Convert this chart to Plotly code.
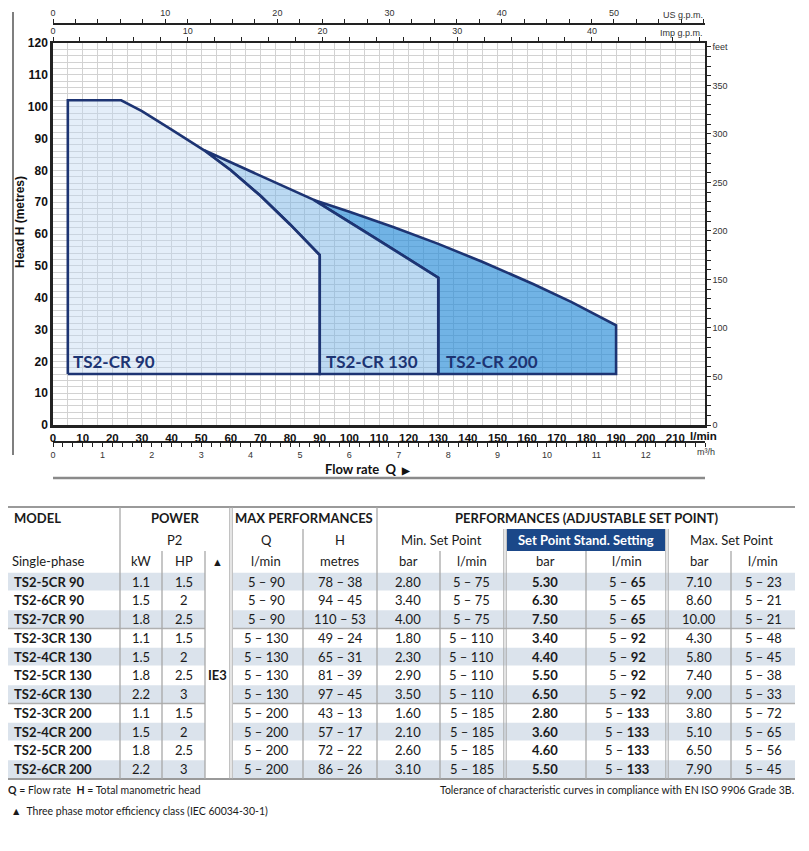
import plotly.graph_objects as go

W, H = 809, 851          # window size
OX, OY = 8, 8            # browser body margin
FW, FH = W - 16, H - 16  # figure size

# ---------------- chart data (l/min vs metres) ----------------
Q_CR90 = [5, 23, 30, 40, 51, 60, 70, 80, 90]
H_CR90 = [102, 102, 98.6, 92.8, 86.3, 80.0, 72.0, 63.0, 53.4]
Q_CR130 = [51, 88, 108, 130]
H_CR130 = [86.3, 70.7, 59.2, 46.3]
Q_CR200 = [88, 100, 115, 130, 145, 162, 175, 190]
H_CR200 = [70.7, 67.0, 62.1, 56.9, 51.2, 44.3, 38.6, 31.3]
H_MIN = 16
SERIES_LABELS = ["TS2-CR 90", "TS2-CR 130", "TS2-CR 200"]

Q_MAX, H_MAX = 220, 120
L_PER_USGAL, L_PER_IMPGAL, FT_PER_M = 3.78541, 4.54609, 3.28084

X_TICKS = list(range(0, 221, 5))
Y_TICKS = list(range(0, 121, 2))
USGPM_TICKS = list(range(0, 59, 2))
IMPGPM_TICKS = list(range(0, 49, 2))
M3H_TICKS = [round(i * 0.2, 1) for i in range(0, 67)]
FEET_TICKS = list(range(0, 391, 10))

# ---------------- table data ----------------
MODELS = ["TS2-5CR 90", "TS2-6CR 90", "TS2-7CR 90", "TS2-3CR 130", "TS2-4CR 130", "TS2-5CR 130",
          "TS2-6CR 130", "TS2-3CR 200", "TS2-4CR 200", "TS2-5CR 200", "TS2-6CR 200"]
KW = ["1.1", "1.5", "1.8", "1.1", "1.5", "1.8", "2.2", "1.1", "1.5", "1.8", "2.2"]
HP = ["1.5", "2", "2.5", "1.5", "2", "2.5", "3", "1.5", "2", "2.5", "3"]
Q_RANGE = ["5 – 90"] * 3 + ["5 – 130"] * 4 + ["5 – 200"] * 4
H_RANGE = ["78 – 38", "94 – 45", "110 – 53", "49 – 24", "65 – 31", "81 – 39", "97 – 45",
           "43 – 13", "57 – 17", "72 – 22", "86 – 26"]
MIN_BAR = ["2.80", "3.40", "4.00", "1.80", "2.30", "2.90", "3.50", "1.60", "2.10", "2.60", "3.10"]
MIN_LMIN = ["5 – 75"] * 3 + ["5 – 110"] * 4 + ["5 – 185"] * 4
STD_BAR = ["5.30", "6.30", "7.50", "3.40", "4.40", "5.50", "6.50", "2.80", "3.60", "4.60", "5.50"]
STD_LMIN = ["65"] * 3 + ["92"] * 4 + ["133"] * 4
MAX_BAR = ["7.10", "8.60", "10.00", "4.30", "5.80", "7.40", "9.00", "3.80", "5.10", "6.50", "7.90"]
MAX_LMIN = ["5 – 23", "5 – 21", "5 – 21", "5 – 48", "5 – 45", "5 – 38", "5 – 33",
            "5 – 72", "5 – 65", "5 – 56", "5 – 45"]
EFF_CLASS = "IE3"

NAVY = "#1d3473"
CHART_FONT = "Liberation Sans Narrow, Liberation Sans, Arial"
TABLE_FONT = "Lato, Open Sans, sans-serif"
NARROW_FONT = "Liberation Sans Narrow, Lato, sans-serif"


def PX(x):
    return (x - OX) / FW


def PY(y):
    return 1 - (y - OY) / FH


fig = go.Figure()

# exclusive polygons built from the curves (closed)
i51 = Q_CR90.index(Q_CR130[0])
poly90_x = [Q_CR90[0]] + Q_CR90 + [Q_CR90[-1], Q_CR90[0]]
poly90_y = [H_MIN] + H_CR90 + [H_MIN, H_MIN]
poly130_x = Q_CR130 + [Q_CR130[-1], Q_CR90[-1]] + Q_CR90[i51:][::-1]
poly130_y = H_CR130 + [H_MIN, H_MIN] + H_CR90[i51:][::-1]
j88 = Q_CR130.index(Q_CR200[0])
poly200_x = Q_CR200 + [Q_CR200[-1], Q_CR130[-1]] + Q_CR130[j88:][::-1]
poly200_y = H_CR200 + [H_MIN, H_MIN] + H_CR130[j88:][::-1]

for px_, py_, fc in [(poly200_x, poly200_y, "rgba(40,140,215,0.66)"),
                     (poly130_x, poly130_y, "rgba(120,180,230,0.50)"),
                     (poly90_x, poly90_y, "rgba(190,215,240,0.42)")]:
    fig.add_trace(go.Scatter(x=px_, y=py_, fill="toself", fillcolor=fc, mode="lines",
                             line=dict(color=NAVY, width=2.6), hoverinfo="skip", showlegend=False))

# dummy traces to activate secondary axes
fig.add_trace(go.Scatter(x=[0, Q_MAX / L_PER_USGAL], y=[None, None], xaxis="x2", yaxis="y", mode="lines",
                         showlegend=False, hoverinfo="skip"))
fig.add_trace(go.Scatter(x=[0, Q_MAX / L_PER_IMPGAL], y=[None, None], xaxis="x3", yaxis="y", mode="lines",
                         showlegend=False, hoverinfo="skip"))
fig.add_trace(go.Scatter(x=[0, Q_MAX * 60 / 1000], y=[None, None], xaxis="x4", yaxis="y", mode="lines",
                         showlegend=False, hoverinfo="skip"))
fig.add_trace(go.Scatter(x=[None, None], y=[0, H_MAX * FT_PER_M], xaxis="x", yaxis="y2", mode="lines",
                         showlegend=False, hoverinfo="skip"))

XD = [PX(53), PX(705)]
YD = [PY(425), PY(43)]
small = dict(size=9, color="#333", family=CHART_FONT)

fig.update_layout(
    width=FW, height=FH, margin=dict(l=0, r=0, t=0, b=0),
    paper_bgcolor="white", plot_bgcolor="white", showlegend=False,
    xaxis=dict(domain=XD, range=[0, Q_MAX], anchor="y", side="bottom", automargin=False,
               tickvals=X_TICKS,
               ticktext=[f"<b>{v}</b>" if v % 10 == 0 and v <= 210 else "" for v in X_TICKS],
               tickfont=dict(size=11.5, color="#111", family=CHART_FONT), ticks="",
               showgrid=True, gridcolor="#d2d2d2", gridwidth=1, zeroline=False,
               showline=True, linecolor="#222", linewidth=2.5),
    yaxis=dict(domain=YD, range=[0, H_MAX], anchor="x", automargin=False,
               tickvals=Y_TICKS,
               ticktext=[f"<b>{v}</b>" if v % 10 == 0 else "" for v in Y_TICKS],
               tickfont=dict(size=12, color="#111", family=CHART_FONT), ticks="",
               showgrid=True, gridcolor="#d2d2d2", gridwidth=1, zeroline=False,
               showline=True, linecolor="#222", linewidth=2.5),
    xaxis2=dict(domain=XD, range=[0, Q_MAX / L_PER_USGAL], overlaying="x", anchor="free",
                position=PY(24), side="top", automargin=False,
                tickvals=USGPM_TICKS, ticktext=[str(v) if v % 10 == 0 else "" for v in USGPM_TICKS],
                tickfont=small, ticks="outside", ticklen=4, tickcolor="#222", tickwidth=1.2,
                showgrid=False, zeroline=False, showline=True, linecolor="#222", linewidth=1.5),
    xaxis3=dict(domain=XD, range=[0, Q_MAX / L_PER_IMPGAL], overlaying="x", anchor="y",
                side="top", automargin=False,
                tickvals=IMPGPM_TICKS, ticktext=[str(v) if v % 10 == 0 else "" for v in IMPGPM_TICKS],
                tickfont=small, ticks="outside", ticklen=4, tickcolor="#222", tickwidth=1.2,
                showgrid=False, zeroline=False, showline=True, linecolor="#222", linewidth=1.5),
    xaxis4=dict(domain=XD, range=[0, Q_MAX * 60 / 1000], overlaying="x", anchor="free",
                position=PY(442), side="bottom", automargin=False,
                tickvals=M3H_TICKS,
                ticktext=[str(int(v)) if abs(v - round(v)) < 1e-6 and v <= 12 else "" for v in M3H_TICKS],
                tickfont=small, ticks="outside", ticklen=4, tickcolor="#222", tickwidth=1,
                showgrid=False, zeroline=False, showline=True, linecolor="#222", linewidth=1.5),
    yaxis2=dict(domain=YD, range=[0, H_MAX * FT_PER_M], overlaying="y", anchor="x", side="right",
                automargin=False, tickvals=FEET_TICKS,
                ticktext=[str(v) if v % 50 == 0 else ("feet" if v == 390 else "") for v in FEET_TICKS],
                tickfont=small, ticks="outside", ticklen=4, tickcolor="#222", tickwidth=1.2,
                showgrid=False, zeroline=False, showline=True, linecolor="#222", linewidth=1.5),
)

ann = []
shapes = []


def T(x, y, text, size=13, bold=False, anchor="center", color="#1a1a1a", family=TABLE_FONT, angle=0):
    ann.append(dict(x=PX(x), y=PY(y), xref="paper", yref="paper",
                    text=f"<b>{text}</b>" if bold else text, showarrow=False,
                    xanchor=anchor, yanchor="middle", textangle=angle,
                    font=dict(size=size, color=color, family=family)))


def L(x0, y0, x1, y1, color="#a8a8a8", width=1.3):
    shapes.append(dict(type="line", xref="paper", yref="paper", x0=PX(x0), y0=PY(y0),
                       x1=PX(x1), y1=PY(y1), line=dict(color=color, width=width)))


def R(x0, y0, x1, y1, fill):
    shapes.append(dict(type="rect", xref="paper", yref="paper", x0=PX(x0), y0=PY(y1),
                       x1=PX(x1), y1=PY(y0), fillcolor=fill, line=dict(width=0), layer="below"))


# series labels in data coordinates
for lab, qx in zip(SERIES_LABELS, [6, 91.5, 132]):
    ann.append(dict(x=qx, y=H_MIN + 4, xref="x", yref="y", text=f"<b>{lab}</b>", showarrow=False,
                    xanchor="left", yanchor="middle", font=dict(size=17, color=NAVY, family=TABLE_FONT)))

# chart decorations
T(705, 15, "US g.p.m.", size=9, anchor="right", color="#333", family=CHART_FONT)
T(705, 33, "Imp g.p.m.", size=9, anchor="right", color="#333", family=CHART_FONT)
T(688, 436, "<b>l/min</b>", size=11.5, anchor="left", color="#111", family=CHART_FONT)
T(695, 452, "m³/h", size=9, anchor="left", color="#333", family=CHART_FONT)
T(20, 222, "Head H (metres)", size=12, bold=True, color="#111", family=CHART_FONT, angle=-90)
T(368, 469, "Flow rate  Q  <span style='font-size:10px'>▶</span>", size=13, bold=True,
  color="#111", family=TABLE_FONT)
L(53, 478, 705, 478, color="#8a8a8a", width=2.5)
L(13, 12, 13, 455, color="#555", width=1.5)

# ---------------- table ----------------
ROW0, RH = 581.5, 18.75
n = len(MODELS)
for i in range(n):
    yc = ROW0 + RH * i
    if i % 2 == 0:
        R(8, yc - RH / 2 + 0.5, 205, yc + RH / 2 - 0.5, "#dbe3ec")
        R(233, yc - RH / 2 + 0.5, 795, yc + RH / 2 - 0.5, "#dbe3ec")

# header box
R(507, 529, 665, 551, "#1b4889")

# horizontal lines
L(8, 507, 795, 507, color="#9a9a9a", width=2)
L(8, 779, 795, 779, color="#9a9a9a", width=2)
for k in [3, 7]:
    yb = ROW0 + RH * (k - 0.5)
    L(8, yb, 205, yb, color="#b0b0b0", width=1.5)
    L(233, yb, 795, yb, color="#b0b0b0", width=1.5)

# vertical lines
for x, y0 in [(120, 507), (162, 551), (205, 551), (303, 529), (377, 507), (440, 551),
              (586, 551), (731, 551)]:
    L(x, y0, x, 779)
for x, y0 in [(231, 507), (505, 529), (667, 529)]:
    L(x - 1.2, y0, x - 1.2, 779, width=1)
    L(x + 1.2, y0, x + 1.2, 779, width=1)

# header texts
T(12, 518, "MODEL", bold=True, anchor="left")
T(175, 518, "POWER", bold=True)
T(304, 518, "MAX PERFORMANCES", bold=True)
T(586, 518, "PERFORMANCES (ADJUSTABLE SET POINT)", bold=True)
T(174, 540, "P2")
T(266, 540, "Q")
T(340, 540, "H")
T(441, 540, "Min. Set Point")
T(586, 540, "Set Point Stand. Setting", bold=True, color="white")
T(731, 540, "Max. Set Point")
T(10, 561, "Single-phase", anchor="left")
COLX = [141, 184, 218, 266, 340, 408, 472, 545, 627, 699, 763]
for x, t in zip(COLX, ["kW", "HP", "▲", "l/min", "metres", "bar", "l/min", "bar", "l/min", "bar", "l/min"]):
    T(x, 561, t, size=13 if t != "▲" else 11)

for i in range(n):
    yc = ROW0 + RH * i
    T(12, yc, MODELS[i], bold=True, anchor="left")
    vals = [KW[i], HP[i], None, Q_RANGE[i], H_RANGE[i], MIN_BAR[i], MIN_LMIN[i],
            f"<b>{STD_BAR[i]}</b>", f"5 – <b>{STD_LMIN[i]}</b>", MAX_BAR[i], MAX_LMIN[i]]
    for x, v in zip(COLX, vals):
        if v is not None:
            T(x, yc, v)
T(218, ROW0 + RH * (n // 2), EFF_CLASS, bold=True)

# footer
T(6, 790, "<b>Q</b> = Flow rate  <b>H</b> = Total manometric head", size=10.5, anchor="left", family=NARROW_FONT)
T(796, 790, "Tolerance of characteristic curves in compliance with EN ISO 9906 Grade 3B.", size=10.5,
  anchor="right", family=NARROW_FONT)
T(9, 811, "▲  Three phase motor efficiency class (IEC 60034-30-1)", size=10.5, anchor="left", family=NARROW_FONT)

fig.update_layout(annotations=ann, shapes=shapes)
fig.write_html("out.html")
